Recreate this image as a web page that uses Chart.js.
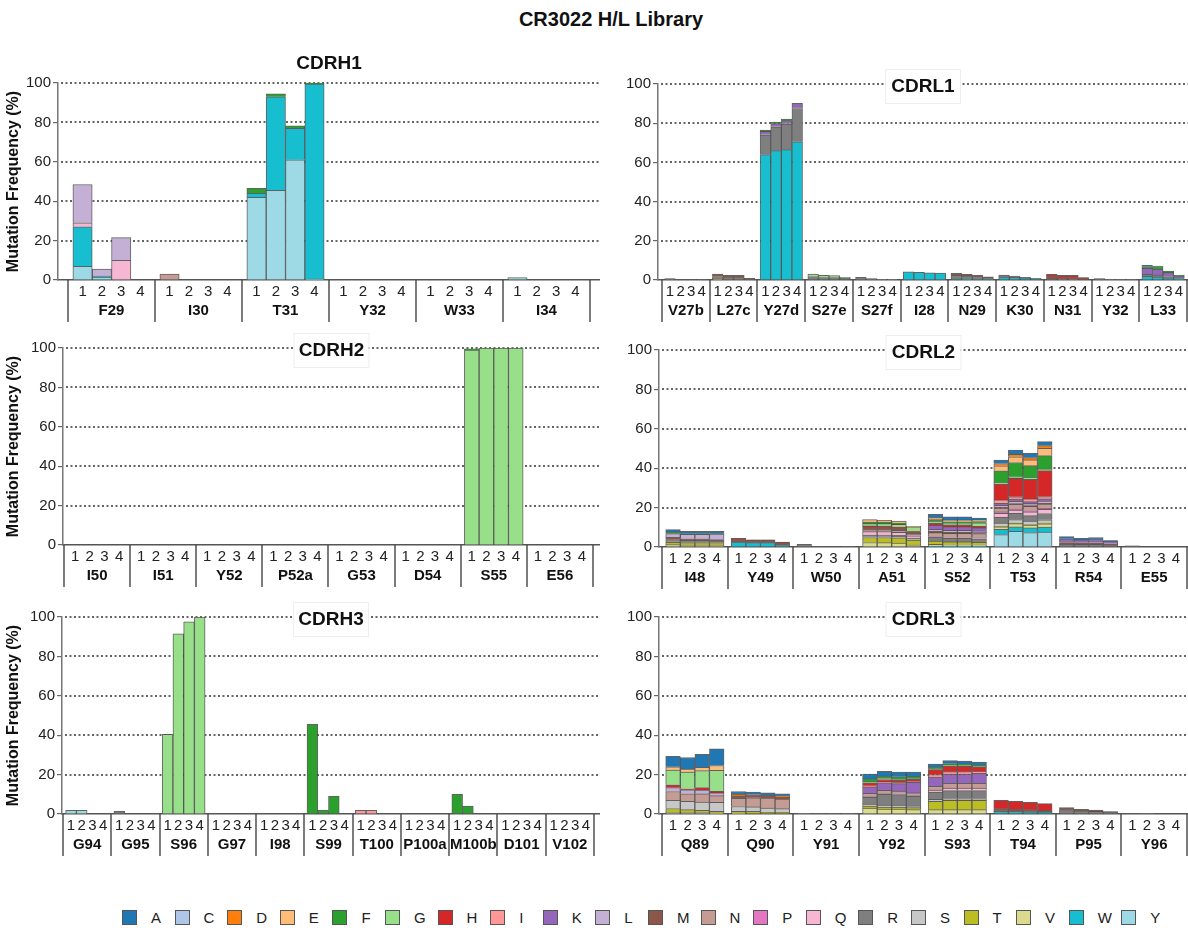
<!DOCTYPE html>
<html>
<head>
<meta charset="utf-8">
<title>CR3022 H/L Library</title>
<script src="https://cdn.jsdelivr.net/npm/chart.js@4.4.1/dist/chart.umd.min.js"></script>
<style>
  body { margin: 0; background: #fff; width: 1188px; height: 930px; position: relative; overflow: hidden;
         font-family: 'Liberation Sans', Arial, Helvetica, sans-serif; }
  #title { position: absolute; top: 8px; left: 611px; transform: translateX(-50%); white-space: nowrap;
           font-weight: bold; font-size: 20px; color: #111; }
  canvas { position: absolute; }
  #legend { position: absolute; top: 909px; left: 122px; display: flex; }
  .item { display: flex; align-items: center; width: 52.6px; font-size: 15px; color: #222; }
  .swatch { width: 15px; height: 15px; border: 1px solid #555; box-sizing: border-box; margin-right: 14px; }
</style>
</head>
<body>
<div id="title">CR3022 H/L Library</div>
<canvas id="cdrh1" width="600" height="290" style="left:0;top:40px"></canvas>
<canvas id="cdrl1" width="588" height="290" style="left:600px;top:40px"></canvas>
<canvas id="cdrh2" width="600" height="265" style="left:0;top:330px"></canvas>
<canvas id="cdrl2" width="588" height="265" style="left:600px;top:330px"></canvas>
<canvas id="cdrh3" width="600" height="267" style="left:0;top:597px"></canvas>
<canvas id="cdrl3" width="588" height="267" style="left:600px;top:597px"></canvas>
<div id="legend"></div>
<script>
const FONT = "'Liberation Sans', Arial, Helvetica, sans-serif";
const GROUP = 4.5;  // one residue = 4 replicate bars + gap
const BAR0 = 0.75;  // centre of replicate 1 inside its group

const aminoAcids = ['A', 'C', 'D', 'E', 'F', 'G', 'H', 'I', 'K', 'L', 'M', 'N', 'P', 'Q', 'R', 'S', 'T', 'V', 'W', 'Y'];
const aaColors = ['#1f77b4', '#aec7e8', '#ff7f0e', '#ffbb78', '#2ca02c', '#98df8a', '#d62728', '#ff9896', '#9467bd', '#c5b0d5',
                  '#8c564b', '#c49c94', '#e377c2', '#f7b6d2', '#7f7f7f', '#c7c7c7', '#bcbd22', '#dbdb8d', '#17becf', '#9edae5'];
const yTicks = [0, 20, 40, 60, 80, 100];

// residues of each CDR
const h1Residues = ['F29', 'I30', 'T31', 'Y32', 'W33', 'I34'];
const l1Residues = ['V27b', 'L27c', 'Y27d', 'S27e', 'S27f', 'I28', 'N29', 'K30', 'N31', 'Y32', 'L33'];
const h2Residues = ['I50', 'I51', 'Y52', 'P52a', 'G53', 'D54', 'S55', 'E56'];
const l2Residues = ['I48', 'Y49', 'W50', 'A51', 'S52', 'T53', 'R54', 'E55'];
const h3Residues = ['G94', 'G95', 'S96', 'G97', 'I98', 'S99', 'T100', 'P100a', 'M100b', 'D101', 'V102'];
const l3Residues = ['Q89', 'Q90', 'Y91', 'Y92', 'S93', 'T94', 'P95', 'Y96'];

// mutation frequency (%) per amino acid, per residue, replicates 1-4
const h1Values = {
  Y: { F29: [7, 1.5, 0, 0], T31: [42, 45.5, 61, 0.5], I34: [1.2, 0, 0, 0] },
  W: { F29: [20, 0.5, 0, 0], T31: [2, 47.5, 16, 99] },
  Q: { F29: [2, 0, 10, 0] },
  N: { I30: [3, 0, 0, 0] },
  L: { F29: [19.5, 3.5, 11.5, 0] },
  F: { T31: [2.5, 1.5, 1.3, 0.3] }
};
const l1Values = {
  W: { Y27d: [64, 66, 66.5, 70.5], I28: [4.2, 3.9, 3.6, 3.5], N29: [0.5, 0.4, 0.3, 0.2], K30: [1.5, 1.2, 0.8, 0.5], L33: [1.9, 1.5, 1.0, 0.6] },
  T: { L27c: [0.4, 0, 0, 0] },
  R: { V27b: [0.7, 0.3, 0.3, 0.2], L27c: [1.4, 1.2, 1.2, 0.5], Y27d: [10, 12, 13, 17], S27e: [1.8, 1.2, 1.2, 1.0],
       S27f: [1.3, 0.7, 0.4, 0.4], N29: [1.9, 1.7, 1.5, 1.0], K30: [1.0, 0.8, 0.6, 0.4], N31: [0.5, 0.4, 0.4, 0.3],
       Y32: [0.7, 0.1, 0.1, 0.1], L33: [1.0, 1.0, 0.8, 0.6] },
  M: { L27c: [1.2, 1.2, 1.2, 0.3], N29: [1.0, 0.8, 0.6, 0.4], N31: [1.2, 0.8, 0.8, 0.4] },
  L: { Y27d: [0.3, 0.3, 0.3, 0.6] },
  K: { Y27d: [1.5, 1.5, 1.5, 2], L33: [3.0, 3.0, 2.0, 0.9] },
  H: { N31: [1.2, 1.2, 1.2, 0.5] },
  G: { S27e: [1.2, 1.2, 1.1, 0.3] },
  F: { Y27d: [0.7, 0.8, 0.8, 0], L33: [1.0, 1.4, 0.8, 0.3] },
  A: { L33: [0.6, 0.2, 0, 0] }
};
const h2Values = {
  G: { S55: [99, 100, 100, 100] },
  F: { S55: [0.6, 0, 0, 0] }
};
const l2Values = {
  Y: { T53: [6.3, 8.0, 7.3, 7.6] },
  W: { Y49: [2.5, 2.2, 2.2, 1.0], S52: [0.5, 0.4, 0.4, 0.4], T53: [2.7, 2.2, 2.4, 2.5] },
  V: { I48: [1.2, 1, 1, 1], A51: [2.3, 2.2, 2.0, 1.0], S52: [0.8, 0.7, 0.7, 0.7], T53: [1.2, 1.7, 1.4, 1.7] },
  T: { I48: [1.2, 1.2, 1.2, 1.2], A51: [2.5, 2.6, 2.6, 2.5], S52: [1.7, 1.5, 1.5, 1.3], T53: [0.3, 0.3, 0.3, 0.3] },
  S: { I48: [0.5, 0.5, 0.5, 0.4], A51: [0.8, 0.8, 0.8, 0.5], T53: [1.7, 1.7, 1.7, 1.7] },
  R: { I48: [0.8, 0.7, 0.7, 0.6], W50: [1.4, 0.3, 0.3, 0.2], A51: [0.5, 0.5, 0.5, 0.5], S52: [2.0, 1.8, 1.8, 1.8],
       T53: [2.9, 3.2, 2.8, 3.2], R54: [1.5, 1.4, 1.4, 1.0], E55: [0.6, 0, 0, 0] },
  Q: { A51: [1.7, 1.7, 1.5, 1.2], S52: [0.3, 0.3, 0.3, 0.6], T53: [2.0, 1.6, 2.0, 2.1] },
  P: { T53: [0.7, 0.5, 0.5, 0.5] },
  N: { A51: [1.0, 1.0, 1.0, 1.0], S52: [2.0, 2.2, 2.2, 2.0], T53: [2.0, 2.5, 2.2, 2.2] },
  M: { I48: [1.2, 0.8, 0.8, 0.6], Y49: [1.5, 1.2, 1.2, 1.2], A51: [1.4, 1.4, 1.3, 1.0], S52: [0.7, 0.6, 0.6, 0.5],
       T53: [0.4, 0.4, 0.4, 0.4], R54: [0.8, 0.7, 0.7, 0.6] },
  L: { I48: [1.9, 2.2, 2.2, 2.8], S52: [1.0, 0.9, 0.9, 0.8], T53: [1.0, 1.1, 1.0, 1.1], R54: [0.4, 0.3, 0.4, 0.3] },
  K: { S52: [2.0, 1.8, 1.8, 1.6], T53: [1.0, 1.1, 1.0, 1.1], R54: [1.5, 1.2, 1.3, 1.0] },
  I: { T53: [1.7, 1.2, 1.4, 1.2] },
  H: { Y49: [0.4, 0.3, 0.3, 0.3], A51: [0.5, 0.4, 0.4, 0.3], S52: [1.2, 1.1, 1.1, 0.8], T53: [8.1, 9.3, 10.0, 13.2] },
  G: { A51: [1.2, 1.3, 1.4, 2.2], S52: [1.0, 0.9, 0.9, 1.8], T53: [0.8, 0.8, 0.8, 0.8] },
  F: { I48: [0.8, 0.4, 0.4, 0.2], A51: [0.8, 0.7, 0.7, 0], S52: [0.7, 0.6, 0.6, 0.6], T53: [5.9, 7.3, 6.1, 6.8] },
  E: { A51: [1.2, 1.0, 1.0, 0.3], S52: [1.0, 0.9, 0.9, 0.9], T53: [2.5, 2.9, 2.9, 3.7] },
  D: { T53: [1.2, 1.2, 1.2, 1.4] },
  A: { I48: [1.2, 1.2, 1.2, 1.2], S52: [1.7, 1.6, 1.6, 0.9], T53: [1.7, 2.2, 2.2, 2.0], R54: [1.1, 0.8, 1.0, 0.4] }
};
const h3Values = {
  Y: { G94: [1.8, 1.8, 0, 0] },
  R: { G95: [1.3, 0, 0, 0] },
  I: { T100: [1.8, 1.8, 0, 0] },
  G: { S96: [40.5, 91.5, 97.5, 100] },
  F: { S99: [45.5, 2, 9, 0], M100b: [10, 4, 0, 0] }
};
const l3Values = {
  W: { T94: [1.2, 1.2, 1.0, 0.8] },
  V: { Q89: [0.8, 0.8, 0.8, 0.5], Q90: [0.5, 0, 0, 0], Y92: [3.0, 2.5, 2.5, 2.2], S93: [2.2, 2.2, 2.2, 2.2] },
  T: { Q89: [2.0, 1.4, 1.0, 0.8], Q90: [0.8, 1.4, 0.8, 0.8], Y92: [1.0, 1.0, 1.0, 1.0], S93: [4.2, 4.7, 4.7, 4.7] },
  S: { Q89: [4.2, 4.2, 4.2, 4.6], Q90: [2.5, 2.2, 2.2, 1.9], Y92: [1.0, 1.0, 1.0, 0.8], S93: [1.0, 0.8, 0.8, 0.8] },
  R: { Y91: [0.4, 0.2, 0.2, 0.2], Y92: [3.5, 5.5, 5.3, 5.0], S93: [3.7, 4.2, 4.2, 4.2], T94: [0.5, 0.3, 0.4, 0.3],
       P95: [2.2, 1.6, 1.3, 0.8], Y96: [0.3, 0.1, 0, 0] },
  Q: { Y92: [0.5, 0.5, 0.5, 0.5], S93: [1.0, 1.2, 1.2, 1.2] },
  N: { Q89: [4.4, 3.9, 4.2, 3.4], Q90: [4.2, 4.6, 5.1, 4.9], Y92: [1.5, 1.5, 1.3, 1.2], S93: [2.0, 2.5, 2.5, 2.5] },
  M: { Q90: [1.2, 1.7, 1.4, 1.0], T94: [1.0, 0.9, 0.8, 0.7], P95: [1.0, 0.8, 0.7, 0.4] },
  L: { Q89: [2.0, 2.0, 2.0, 1.4] },
  K: { Y92: [3.3, 3.8, 3.8, 5.4], S93: [4.7, 4.7, 4.7, 5.1] },
  I: { Y92: [0.5, 0.5, 0.5, 0.5], S93: [1.2, 1.2, 1.2, 0.8] },
  H: { Q89: [1.4, 0.5, 1.2, 0.8], Y92: [1.5, 1.2, 1.2, 1.0], S93: [2.5, 3.0, 2.8, 2.4], T94: [4.2, 4.0, 3.7, 3.5] },
  G: { Q89: [7.5, 8.5, 8.6, 10.7], Y92: [0.5, 0.5, 0.5, 0.5], S93: [0.5, 0.4, 0.4, 0.3] },
  F: { Y92: [1.5, 1.3, 1.3, 1.0], S93: [0.8, 0.7, 0.7, 0.5] },
  E: { Q89: [1.7, 1.5, 1.7, 2.4] },
  D: { Q90: [0.8, 0, 0, 0.8] },
  A: { Q89: [5.3, 5.9, 6.6, 8.5], Q90: [1.4, 1.2, 1.2, 0.8], Y92: [2.5, 2.4, 2.4, 2.2], S93: [1.5, 1.5, 1.5, 1.7] }
};

// canvas layout: y axis width, top padding, table height under the axis, extra x units before/after the residues
const panels = [
  { id: 'cdrh1', title: 'CDRH1', residues: h1Residues, values: h1Values, yTitle: true, yWidth: 58, top: 43, xHeight: 50, lead: 0.52, tail: 0.52, titleAbove: true },
  { id: 'cdrl1', title: 'CDRL1', residues: l1Residues, values: l1Values, yTitle: false, yWidth: 58, top: 44, xHeight: 50, lead: 0.38, tail: 0.1 },
  { id: 'cdrh2', title: 'CDRH2', residues: h2Residues, values: h2Values, yTitle: true, yWidth: 63, top: 18, xHeight: 50, lead: 0.07, tail: 0.48 },
  { id: 'cdrl2', title: 'CDRL2', residues: l2Residues, values: l2Values, yTitle: false, yWidth: 59, top: 20, xHeight: 48, lead: 0.21, tail: 0.07 },
  { id: 'cdrh3', title: 'CDRH3', residues: h3Residues, values: h3Values, yTitle: true, yWidth: 62, top: 20, xHeight: 50, lead: 0.09, tail: 0.56 },
  { id: 'cdrl3', title: 'CDRL3', residues: l3Residues, values: l3Values, yTitle: false, yWidth: 59, top: 20, xHeight: 50, lead: 0.21, tail: 0.07 }
];

// dotted horizontal grid at 20..100, behind the bars
const dottedGrid = {
  id: 'dottedGrid',
  beforeDatasetsDraw(chart) {
    const { ctx, chartArea } = chart;
    const y = chart.scales.y;
    ctx.save();
    ctx.strokeStyle = '#333';
    ctx.lineWidth = 1.6;
    ctx.setLineDash([2, 2.5]);
    yTicks.filter(v => v > 0).forEach(v => {
      const py = Math.round(y.getPixelForValue(v));
      ctx.beginPath();
      ctx.moveTo(chartArea.left + 3, py);
      ctx.lineTo(chartArea.right, py);
      ctx.stroke();
    });
    ctx.restore();
  }
};

// residue names, dividers between residues and the CDR title box
function groupAxis(panel) {
  return {
    id: 'groupAxis',
    afterDraw(chart) {
      const { ctx, chartArea } = chart;
      const x = chart.scales.x;
      const base = chartArea.bottom;
      const n = panel.residues.length;
      ctx.save();
      ctx.strokeStyle = '#444';
      ctx.lineWidth = 1.4;
      for (let g = 0; g <= n; g++) {
        const px = Math.round(x.getPixelForValue(g * GROUP));
        ctx.beginPath();
        ctx.moveTo(px, base);
        ctx.lineTo(px, base + 42);
        ctx.stroke();
      }
      ctx.fillStyle = '#111';
      ctx.font = 'bold 15px ' + FONT;
      ctx.textAlign = 'center';
      ctx.textBaseline = 'middle';
      panel.residues.forEach((name, g) => {
        ctx.fillText(name, x.getPixelForValue(g * GROUP + GROUP / 2), base + 31);
      });

      const cx = (chartArea.left + chartArea.right) / 2;
      const cy = panel.titleAbove ? chartArea.top - 20 : chartArea.top + 2;
      ctx.fillStyle = '#fff';
      ctx.fillRect(cx - 37, cy - 16, 74, 33);
      ctx.strokeStyle = '#eeeeee';
      ctx.lineWidth = 1;
      if (!panel.titleAbove) ctx.strokeRect(cx - 37.5, cy - 16.5, 75, 34);
      ctx.fillStyle = '#111';
      ctx.font = 'bold 19px ' + FONT;
      ctx.fillText(panel.title, cx, cy + 1);
      ctx.restore();
    }
  };
}

function buildChart(panel) {
  const n = panel.residues.length;
  const positions = [];
  for (let g = 0; g < n; g++) for (let i = 0; i < 4; i++) positions.push(g * GROUP + BAR0 + i);

  // stacked bottom-up from Y to A
  const datasets = [];
  for (let k = aminoAcids.length - 1; k >= 0; k--) {
    const aa = aminoAcids[k];
    const byRes = panel.values[aa];
    if (!byRes) continue;
    const vals = panel.residues.flatMap(r => byRes[r] || [0, 0, 0, 0]);
    datasets.push({
      label: aa,
      data: vals.map((v, j) => ({ x: positions[j], y: v })),
      backgroundColor: aaColors[k],
      borderColor: 'rgba(70,70,70,0.85)',
      borderWidth: 1,
      categoryPercentage: 1,
      barPercentage: 1
    });
  }

  new Chart(document.getElementById(panel.id), {
    type: 'bar',
    data: { datasets },
    options: {
      responsive: false,
      animation: false,
      layout: { padding: { top: panel.top, left: 0, right: 0, bottom: 0 } },
      plugins: { legend: { display: false }, tooltip: { enabled: false } },
      scales: {
        x: {
          type: 'linear',
          stacked: true,
          offset: false,
          min: -panel.lead,
          max: n * GROUP + panel.tail,
          afterBuildTicks: scale => { scale.ticks = positions.map(v => ({ value: v })); },
          afterFit: scale => { scale.height = panel.xHeight; },
          grid: { display: false, drawTicks: false },
          border: { display: true, color: '#555', width: 1.5 },
          ticks: {
            autoSkip: false, maxRotation: 0, minRotation: 0, padding: 3,
            color: '#222', font: { family: FONT, size: 15 },
            callback: v => String(Math.round(((v - BAR0) % GROUP + GROUP) % GROUP) + 1)
          }
        },
        y: {
          stacked: true,
          min: 0,
          max: 100,
          afterBuildTicks: scale => { scale.ticks = yTicks.map(v => ({ value: v })); },
          afterFit: scale => { scale.width = panel.yWidth; },
          grid: { drawOnChartArea: false, tickLength: 5, color: '#666', lineWidth: 1.2 },
          border: { display: true, color: '#777', width: 1.5 },
          ticks: { padding: 2, color: '#222', font: { family: FONT, size: 15 } },
          title: {
            display: panel.yTitle,
            text: 'Mutation Frequency (%)',
            color: '#111',
            font: { family: FONT, size: 16, weight: 'bold' },
            padding: { top: 4, bottom: 0 }
          }
        }
      }
    },
    plugins: [dottedGrid, groupAxis(panel)]
  });
}

panels.forEach(buildChart);

// shared amino-acid legend
const legend = document.getElementById('legend');
aminoAcids.forEach((aa, k) => {
  const item = document.createElement('div');
  item.className = 'item';
  const sw = document.createElement('span');
  sw.className = 'swatch';
  sw.style.background = aaColors[k];
  item.append(sw, document.createTextNode(aa));
  legend.append(item);
});
</script>
</body>
</html>
